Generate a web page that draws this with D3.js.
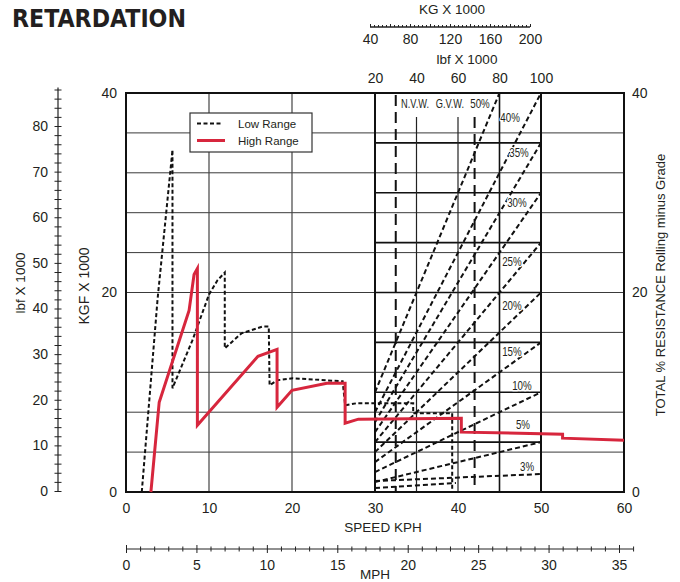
<!DOCTYPE html>
<html><head><meta charset="utf-8">
<script src="https://cdn.jsdelivr.net/npm/d3@7"></script>
<style>
body{margin:0;background:#fff;}
text{font-family:"Liberation Sans",Arial,sans-serif;fill:#231f20;}
</style></head>
<body><svg id="c" width="680" height="582"></svg>
<script>
// ---------- data ----------
const kphTicks = [0,10,20,30,40,50,60];
const mphTicks = [0,5,10,15,20,25,30,35];
const kgTicks = [40,80,120,160,200];
const lbfTopTicks = [20,40,60,80,100];
const lbfLeftTicks = [0,10,20,30,40,50,60,70,80];
const kgfTicks = [0,20,40];
const resistTicks = [0,20,40];

const lowRangeKph = [1.9,3.8,5.6,5.6,8.0,10.0,11.0,11.9,11.9,13.9,16.5,17.2,17.3,18.2,20.1,26.1,26.4,27.8,34.6,34.6,39.3,39.3];
const lowRangeKgf = [0,19.3,34.3,10.4,15.2,19.8,21.2,22.0,14.4,15.9,16.6,16.6,10.7,11.2,11.4,11.1,8.7,8.9,8.9,7.9,7.9,0];

const highRangeKph = [3.0,4.0,7.6,8.2,8.6,8.6,15.9,18.2,18.2,20.0,24.2,26.4,26.4,28.0,40.4,40.4,52.6,52.6,60];
const highRangeKgf = [0,9.0,18.2,21.8,22.4,6.7,13.6,14.3,8.5,10.2,10.9,10.9,6.9,7.3,7.4,6.0,5.8,5.4,5.2];

const gradeLabels   = ["3%","5%","10%","15%","20%","25%","30%","35%","40%","50%",""];
const gradeStartLbf = [20,20,20,20,20,20,20,20,20,20,20];
const gradeStartKgf = [1.1,1,2,3,4,5,6,7,8,10,0.4];
const gradeEndLbf   = [100,100,100,100,100,100,100,100,100,80,59];
const gradeEndKgf   = [1.8,5,10,15,20,25,30,35,40,40,0.9];
const gradeLabelLbf = [93.3,91.3,90.8,86,86,86,88.4,89.4,85.1,70.6,0];
const gradeLabelKgf = [2.5,6.8,10.7,14.1,18.7,23.1,29.0,34.0,37.5,38.9,0];

const vehicleLabels = ["N.V.W.","G.V.W."];
const vehicleLabelLbf = [39.3,56.1];
const vehicleLineLbf = [30,68];

const legendItems = ["Low Range","High Range"];

// ---------- setup ----------
const svg = d3.select("#c");
const x = d3.scaleLinear().domain([0,60]).range([126,624]);
const y = d3.scaleLinear().domain([0,40]).range([492,93]);
const xLbf = d3.scaleLinear().domain([20,100]).range([x(30),x(50)]);
const xKg = d3.scaleLinear().domain([40,200]).range([370,530]);
const xMph = d3.scaleLinear().domain([0,35]).range([126,619]);
const yLbf = d3.scaleLinear().domain([0,80]).range([491,126]);
const RED = "#d7263d";
const labTop = 117;

// ---------- grid ----------
const g = svg.append("g");
g.selectAll(".hg").data(d3.range(4,40,4)).enter().append("line")
  .attr("x1",x(0)).attr("x2",x(60)).attr("y1",d=>y(d)).attr("y2",d=>y(d))
  .attr("stroke","#3a3a3a").attr("stroke-width",1);
g.selectAll(".vg").data([10,20]).enter().append("line")
  .attr("x1",d=>x(d)).attr("x2",d=>x(d)).attr("y1",y(0)).attr("y2",y(40))
  .attr("stroke","#444").attr("stroke-width",1.2);
g.selectAll(".gh").data(d3.range(5,40,5)).enter().append("line")
  .attr("x1",xLbf(20)).attr("x2",xLbf(100)).attr("y1",d=>y(d)).attr("y2",d=>y(d))
  .attr("stroke","#111").attr("stroke-width",1.6);
g.selectAll(".gv").data([40,60]).enter().append("line")
  .attr("x1",d=>xLbf(d)).attr("x2",d=>xLbf(d)).attr("y1",labTop).attr("y2",y(0))
  .attr("stroke","#222").attr("stroke-width",1.2);
g.append("line").attr("x1",xLbf(80)).attr("x2",xLbf(80)).attr("y1",y(40)).attr("y2",y(0))
  .attr("stroke","#111").attr("stroke-width",1.6);
g.selectAll(".gvb").data([30,50]).enter().append("line")
  .attr("x1",d=>x(d)).attr("x2",d=>x(d)).attr("y1",y(0)).attr("y2",y(40))
  .attr("stroke","#111").attr("stroke-width",2);
g.selectAll(".vw").data(vehicleLineLbf).enter().append("line")
  .attr("x1",d=>xLbf(d)).attr("x2",d=>xLbf(d))
  .attr("y1",(d,i)=>i===0?y(40)+2:labTop).attr("y2",y(0))
  .attr("stroke","#111").attr("stroke-width",2).attr("stroke-dasharray","11,6");

// grade lines
const grades = gradeLabels.map((l,i)=>({l,i}));
g.selectAll(".gl").data(grades).enter().append("line")
  .attr("x1",d=>xLbf(gradeStartLbf[d.i])).attr("y1",d=>y(gradeStartKgf[d.i]))
  .attr("x2",d=>xLbf(gradeEndLbf[d.i])).attr("y2",d=>y(gradeEndKgf[d.i]))
  .attr("stroke","#111").attr("stroke-width",2).attr("stroke-dasharray","5,3");
function condensed(sel){
  sel.attr("dy","0.35em").attr("text-anchor","middle")
    .style("font-size","12.5px").attr("fill","#333")
    .attr("stroke","#fff").attr("stroke-width",2.5).attr("paint-order","stroke")
    .attr("stroke-linejoin","round");
}
g.selectAll(".glt").data(grades.filter(d=>d.l)).enter().append("text")
  .attr("transform",d=>`translate(${xLbf(gradeLabelLbf[d.i])},${y(gradeLabelKgf[d.i])}) scale(0.78,1)`)
  .call(condensed).text(d=>d.l);
g.selectAll(".vwt").data(vehicleLabels).enter().append("text")
  .attr("transform",(d,i)=>`translate(${xLbf(vehicleLabelLbf[i])},${y(38.9)}) scale(0.74,1)`)
  .call(condensed).text(d=>d);

// plot border
svg.append("rect").attr("x",x(0)).attr("y",y(40)).attr("width",x(60)-x(0)).attr("height",y(0)-y(40))
  .attr("fill","none").attr("stroke","#111").attr("stroke-width",2);

// ---------- curves ----------
const line = d3.line().x(d=>x(d[0])).y(d=>y(d[1]));
svg.append("path").datum(lowRangeKph.map((k,i)=>[k,lowRangeKgf[i]]))
  .attr("d",line).attr("fill","none").attr("stroke","#111").attr("stroke-width",2)
  .attr("stroke-dasharray","4,2.5");
svg.append("path").datum(highRangeKph.map((k,i)=>[k,highRangeKgf[i]]))
  .attr("d",line).attr("fill","none").attr("stroke",RED).attr("stroke-width",3)
  .attr("stroke-linejoin","miter");

// ---------- legend ----------
const lg = svg.append("g");
lg.append("rect").attr("x",190).attr("y",113).attr("width",122).attr("height",39)
  .attr("fill","#fff").attr("stroke","#333").attr("stroke-width",1.2);
lg.append("line").attr("x1",197).attr("x2",223).attr("y1",123.5).attr("y2",123.5)
  .attr("stroke","#111").attr("stroke-width",2).attr("stroke-dasharray","4,2.5");
lg.append("line").attr("x1",197).attr("x2",225).attr("y1",140.5).attr("y2",140.5)
  .attr("stroke",RED).attr("stroke-width",3);
lg.selectAll("text").data(legendItems).enter().append("text")
  .attr("x",238).attr("y",(d,i)=>124+i*17).attr("dy","0.35em")
  .style("font-size","11.5px").text(d=>d);

// ---------- axes ----------
function styleAxis(sel, fs){
  sel.select(".domain").remove();
  sel.selectAll("text").style("font-family","'Liberation Sans',Arial,sans-serif").style("font-size",fs).attr("fill","#231f20");
}
svg.append("g").attr("transform",`translate(0,${y(0)})`)
  .call(d3.axisBottom(x).tickValues(kphTicks).tickSize(0).tickPadding(11))
  .call(s=>styleAxis(s,"14px"));
svg.append("text").attr("x",383).attr("y",527).attr("dy","0.35em").attr("text-anchor","middle")
  .style("font-size","13.5px").text("SPEED KPH");
svg.append("g").attr("transform",`translate(${x(0)},0)`)
  .call(d3.axisLeft(y).tickValues(kgfTicks).tickSize(0).tickPadding(9))
  .call(s=>styleAxis(s,"14px"));
svg.append("g").attr("transform",`translate(${x(60)},0)`)
  .call(d3.axisRight(y).tickValues(resistTicks).tickSize(0).tickPadding(8))
  .call(s=>styleAxis(s,"14px"));
const mphAx = svg.append("g").attr("transform","translate(0,549)");
mphAx.call(d3.axisBottom(xMph).tickValues(d3.range(0,37,1)).tickSize(4).tickPadding(7)
  .tickFormat(d=>mphTicks.includes(d)?d:""));
mphAx.select(".domain").remove();
mphAx.selectAll(".tick line").attr("y1",d=>mphTicks.includes(d)?-4:-2.5).attr("y2",d=>mphTicks.includes(d)?4:2.5).attr("stroke","#222");
mphAx.selectAll("text").style("font-size","14px").attr("fill","#231f20");
mphAx.append("line").attr("x1",xMph(0)).attr("x2",xMph(36)).attr("stroke","#222").attr("stroke-width",1.2);
svg.append("text").attr("x",375).attr("y",574).attr("dy","0.35em").attr("text-anchor","middle")
  .style("font-size","13.5px").text("MPH");
const lbfAx = svg.append("g").attr("transform","translate(58,0)");
lbfAx.call(d3.axisLeft(yLbf).tickValues(d3.range(0,89,2)).tickSize(4).tickPadding(6)
  .tickFormat(d=>lbfLeftTicks.includes(d)?d:""));
lbfAx.select(".domain").remove();
lbfAx.selectAll(".tick line").attr("x1",-3.5).attr("x2",3.5).attr("stroke","#222");
lbfAx.selectAll("text").style("font-size","14px").attr("fill","#231f20");
lbfAx.append("line").attr("y1",yLbf(0)+1).attr("y2",yLbf(88)-2).attr("stroke","#222").attr("stroke-width",1.2);
svg.append("g").attr("transform",`translate(0,${y(40)-4})`)
  .call(d3.axisTop(xLbf).tickValues(lbfTopTicks).tickSize(0).tickPadding(6))
  .call(s=>styleAxis(s,"14px"));
svg.append("text").attr("x",467).attr("y",59).attr("dy","0.35em").attr("text-anchor","middle")
  .style("font-size","13.5px").text("lbf X 1000");
const kgAx = svg.append("g").attr("transform","translate(0,27)");
kgAx.call(d3.axisBottom(xKg).tickValues(d3.range(40,201,4)).tickSize(0).tickPadding(7)
  .tickFormat(d=>kgTicks.includes(d)?d:""));
kgAx.select(".domain").remove();
kgAx.selectAll(".tick line").attr("y1",d=>d%20===0?-3:-2).attr("y2",0).attr("stroke","#222");
kgAx.selectAll("text").style("font-size","14px").attr("fill","#231f20");
kgAx.append("line").attr("x1",xKg(40)).attr("x2",xKg(200)).attr("stroke","#222").attr("stroke-width",1.4);
svg.append("text").attr("x",452).attr("y",9).attr("dy","0.35em").attr("text-anchor","middle")
  .style("font-size","13.5px").text("KG X 1000");

svg.append("text").attr("transform","translate(84,286) rotate(-90)").attr("dy","0.35em")
  .attr("text-anchor","middle").style("font-size","14px").text("KGF X 1000");
svg.append("text").attr("transform","translate(20,283) rotate(-90)").attr("dy","0.35em")
  .attr("text-anchor","middle").style("font-size","13.5px").text("lbf X 1000");
svg.append("text").attr("transform","translate(660,285) rotate(-90)").attr("dy","0.35em")
  .attr("text-anchor","middle").style("font-size","13px").text("TOTAL % RESISTANCE Rolling minus Grade");

svg.append("text").attr("x",12).attr("y",27).attr("textLength",174).attr("lengthAdjust","spacingAndGlyphs")
  .style("font-family","'DejaVu Sans Condensed','DejaVu Sans',sans-serif").style("font-weight","bold")
  .style("font-size","24px").attr("fill","#111").text("RETARDATION");
</script></body></html>
